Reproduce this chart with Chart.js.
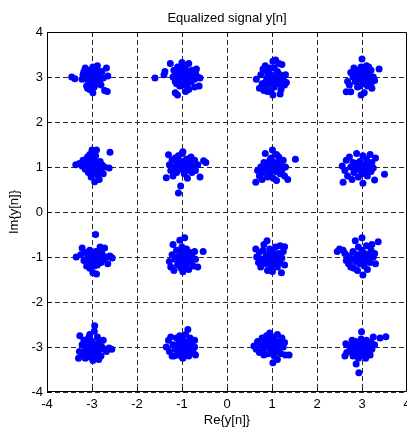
<!DOCTYPE html>
<html>
<head>
<meta charset="utf-8">
<script src="https://cdn.jsdelivr.net/npm/chart.js@4.4.0/dist/chart.umd.min.js"></script>
<style>
  html, body { margin: 0; padding: 0; background: #fff; overflow: hidden; }
  canvas { display: block; }
</style>
</head>
<body>
<canvas id="scatter" width="407" height="428"></canvas>
<script>
// axis ticks
const xTicks = [-4, -3, -2, -1, 0, 1, 2, 3, 4];
const yTicks = [-4, -3, -2, -1, 0, 1, 2, 3, 4];

const row3a = [[-3.45,3.0],[-3.38,2.96],[-3.22,2.95],[-3.18,3.12],[-3.15,3.2],[-3.1,3.05],[-3.08,2.9],[-3.05,3.15],[-3.02,3.0],[-3.0,2.85],[-2.98,3.22],[-2.95,3.08],[-2.92,2.95],[-2.9,3.18],[-2.88,3.25],[-2.85,3.05],[-2.83,2.9],[-3.12,2.8],[-3.05,2.72],[-2.98,2.65],[-3.1,2.75],[-2.95,2.78],[-2.8,2.82],[-2.78,3.12],[-2.75,2.98],[-2.68,3.2],[-2.65,3.02],[-2.72,2.7],[-2.66,2.68],[-3.2,3.05],[-3.0,3.1],[-2.9,3.02],[-3.15,2.98],[-3.05,2.85],[-2.95,2.88],[-3.08,3.08],[-2.98,3.0],[-2.88,3.1],[-3.02,2.92],[-2.92,2.85],[-3.12,3.12],[-2.85,2.98]];
const row3b = [[-1.6,2.98],[-1.4,3.05],[-1.38,3.12],[-1.26,3.3],[-1.2,3.0],[-1.18,3.15],[-1.15,2.9],[-1.12,3.08],[-1.1,3.22],[-1.08,2.95],[-1.05,3.1],[-1.02,3.0],[-1.0,3.18],[-0.98,2.88],[-0.95,3.05],[-0.92,3.25],[-0.9,2.95],[-0.88,3.12],[-0.85,3.3],[-0.82,3.02],[-0.8,2.9],[-0.78,3.15],[-0.75,3.05],[-0.72,2.95],[-0.7,3.1],[-0.65,3.0],[-0.6,2.98],[-0.62,2.8],[-0.72,2.78],[-0.85,2.72],[-0.92,2.68],[-1.15,2.65],[-1.1,2.6],[-1.05,2.8],[-0.95,2.82],[-1.12,2.85],[-0.68,3.18],[-1.0,3.32],[-0.88,2.82],[-1.08,3.02],[-0.98,3.1],[-0.9,3.05],[-0.85,2.98],[-1.02,2.92],[-0.78,3.0],[-0.95,3.18],[-1.15,3.05]];
const row3c = [[0.65,2.95],[0.72,2.75],[0.75,3.05],[0.78,2.85],[0.8,3.18],[0.82,2.7],[0.85,3.25],[0.88,2.98],[0.9,2.8],[0.92,3.1],[0.95,2.92],[0.98,2.68],[1.0,3.02],[1.02,3.35],[1.05,3.2],[1.05,2.78],[1.08,3.38],[1.1,2.95],[1.12,3.12],[1.15,2.85],[1.18,3.05],[1.2,2.72],[1.22,3.28],[1.25,2.95],[1.28,2.82],[1.3,3.05],[1.32,2.88],[1.18,2.62],[1.02,2.6],[0.9,2.68],[1.15,3.3],[0.95,3.2],[1.08,2.88],[0.85,2.88],[0.98,3.05],[1.05,3.0],[1.12,2.92],[0.92,2.95],[1.0,2.85],[1.2,2.98],[0.88,3.12]];
const row3d = [[2.65,2.67],[2.75,2.67],[2.68,2.9],[2.72,2.82],[2.75,3.1],[2.8,3.0],[2.82,3.2],[2.85,2.9],[2.88,3.08],[2.9,2.78],[2.92,3.15],[2.95,2.95],[2.98,3.22],[3.0,3.4],[3.0,3.05],[3.02,2.85],[3.05,2.65],[2.98,2.6],[3.05,3.12],[3.08,2.95],[3.1,3.25],[3.12,2.8],[3.15,3.05],[3.18,2.9],[3.2,3.15],[3.22,2.75],[3.25,3.0],[3.28,2.92],[3.38,3.18],[3.15,3.22],[2.95,2.8],[3.1,3.0],[2.9,3.0],[3.2,2.85],[3.02,3.15],[2.95,3.05],[3.08,2.88],[3.0,2.95],[3.12,3.12],[2.85,3.02]];

const row1a = [[-3.36,1.05],[-3.28,1.08],[-3.22,1.02],[-3.2,1.15],[-3.15,0.95],[-3.12,1.1],[-3.1,1.22],[-3.08,0.88],[-3.05,1.0],[-3.02,1.15],[-3.0,1.38],[-2.98,0.9],[-2.95,1.05],[-2.92,1.25],[-2.9,1.38],[-2.88,0.82],[-2.85,1.0],[-2.82,1.12],[-2.8,0.92],[-2.78,1.05],[-2.75,0.85],[-2.72,1.0],[-2.6,1.33],[-2.62,0.98],[-2.94,0.67],[-2.84,0.72],[-3.02,0.78],[-3.1,1.0],[-2.95,1.15],[-2.88,0.98],[-3.05,1.28],[-3.0,1.05],[-2.92,0.95],[-2.98,1.12],[-3.08,0.95],[-2.85,1.08],[-2.9,0.88],[-3.15,1.05]];
const row1b = [[-1.35,0.76],[-1.3,1.27],[-1.28,1.05],[-1.25,0.92],[-1.22,1.15],[-1.2,0.8],[-1.18,1.0],[-1.15,1.2],[-1.12,0.88],[-1.1,1.08],[-1.08,1.25],[-1.05,0.95],[-1.02,1.12],[-1.0,1.3],[-0.98,1.34],[-0.95,0.85],[-0.92,1.02],[-0.9,1.18],[-0.88,0.75],[-0.85,0.95],[-0.82,1.1],[-0.8,1.22],[-0.78,0.88],[-0.75,1.0],[-0.72,1.15],[-0.7,0.92],[-0.65,1.05],[-0.6,0.78],[-0.52,1.14],[-0.47,1.1],[-1.03,0.58],[-1.08,0.42],[-0.9,0.98],[-1.0,1.05],[-0.95,1.12],[-0.85,1.05],[-1.05,1.02],[-0.92,0.9],[-0.8,1.0],[-0.98,0.95]];
const row1c = [[0.64,0.66],[0.68,0.92],[0.72,0.8],[0.75,1.0],[0.78,0.72],[0.8,0.88],[0.82,1.1],[0.85,1.3],[0.88,0.95],[0.9,0.78],[0.92,1.05],[0.95,0.85],[0.98,1.2],[1.0,0.98],[1.01,1.38],[1.03,0.75],[1.05,1.1],[1.08,0.9],[1.1,0.7],[1.12,1.02],[1.15,1.22],[1.18,0.85],[1.2,1.05],[1.22,0.92],[1.25,1.15],[1.28,0.8],[1.3,1.0],[1.35,0.72],[1.52,1.17],[1.1,1.28],[0.95,1.15],[1.05,0.95],[1.18,1.0],[0.98,0.9],[1.02,1.05],[1.1,0.95],[0.9,1.0],[1.15,1.1],[0.95,0.98]];
const row1d = [[2.56,1.02],[2.58,0.66],[2.62,0.92],[2.65,1.15],[2.68,0.8],[2.72,1.22],[2.75,1.0],[2.78,0.72],[2.8,1.1],[2.82,0.88],[2.85,1.05],[2.88,1.3],[2.9,0.95],[2.92,0.78],[2.95,1.12],[2.98,1.0],[3.0,0.85],[3.02,0.64],[3.02,1.25],[3.05,1.05],[3.08,0.92],[3.1,1.18],[3.12,0.8],[3.15,1.02],[3.18,1.28],[3.2,0.9],[3.22,1.1],[3.25,0.98],[3.28,0.71],[3.3,1.2],[3.5,0.84],[3.0,1.0],[2.9,1.08],[3.05,0.98],[2.95,1.02],[3.1,1.05],[2.98,0.92],[3.15,0.95],[2.85,0.98]];

const rowM1a = [[-3.35,-1.0],[-3.25,-0.95],[-3.22,-0.8],[-3.18,-1.08],[-3.15,-0.9],[-3.12,-1.2],[-3.1,-1.02],[-3.05,-0.85],[-3.02,-1.12],[-3.0,-0.98],[-2.98,-1.35],[-2.92,-0.5],[-2.95,-1.05],[-2.92,-0.88],[-2.9,-1.38],[-2.88,-1.18],[-2.85,-1.0],[-2.82,-0.78],[-2.8,-1.12],[-2.78,-0.92],[-2.75,-1.05],[-2.72,-0.8],[-2.68,-1.0],[-2.65,-1.15],[-2.6,-0.98],[-2.55,-1.02],[-3.05,-1.25],[-2.95,-1.2],[-3.08,-0.95],[-2.9,-1.0],[-2.98,-0.92],[-3.0,-1.08],[-2.92,-1.1],[-2.85,-0.92],[-3.02,-1.0],[-2.88,-1.05],[-2.95,-0.98],[-3.1,-1.1]];
const rowM1b = [[-1.28,-1.1],[-1.25,-1.22],[-1.22,-0.95],[-1.2,-0.72],[-1.18,-1.3],[-1.15,-1.05],[-1.12,-0.85],[-1.1,-1.18],[-1.05,-0.63],[-1.05,-0.98],[-1.02,-1.25],[-1.0,-0.78],[-0.98,-1.33],[-0.98,-1.08],[-0.95,-0.92],[-0.94,-0.57],[-0.92,-1.2],[-0.9,-0.82],[-0.88,-1.02],[-0.85,-1.28],[-0.82,-0.9],[-0.8,-1.12],[-0.78,-0.98],[-0.75,-1.2],[-0.72,-0.88],[-0.7,-1.05],[-0.65,-1.22],[-0.53,-0.88],[-1.1,-1.0],[-0.95,-1.05],[-1.0,-1.15],[-1.02,-0.95],[-0.9,-1.1],[-0.85,-0.98],[-1.08,-1.1],[-0.92,-1.0],[-0.98,-0.88],[-0.82,-1.05]];
const rowM1c = [[0.64,-0.82],[0.66,-1.0],[0.7,-1.12],[0.72,-0.9],[0.75,-1.22],[0.78,-1.05],[0.8,-0.85],[0.82,-0.72],[0.85,-1.15],[0.88,-0.95],[0.89,-0.64],[0.9,-1.3],[0.92,-1.05],[0.95,-0.82],[0.98,-1.2],[1.0,-0.98],[1.01,-1.32],[1.02,-0.88],[1.05,-1.1],[1.08,-0.78],[1.1,-1.0],[1.12,-1.22],[1.15,-0.92],[1.18,-0.75],[1.18,-1.12],[1.21,-1.35],[1.22,-1.02],[1.25,-0.88],[1.28,-0.77],[1.28,-1.18],[0.95,-1.02],[1.05,-0.95],[0.98,-1.08],[1.08,-1.05],[0.92,-0.95],[1.02,-1.15],[1.12,-0.98],[0.85,-1.02]];
const rowM1d = [[2.45,-0.88],[2.5,-0.82],[2.58,-0.85],[2.62,-0.92],[2.65,-1.08],[2.7,-1.15],[2.72,-0.98],[2.75,-1.22],[2.78,-1.05],[2.8,-0.88],[2.82,-1.25],[2.85,-0.64],[2.85,-1.1],[2.88,-0.95],[2.9,-1.3],[2.92,-0.78],[2.95,-1.15],[2.98,-1.02],[3.0,-0.57],[3.0,-0.85],[3.02,-1.4],[3.05,-1.2],[3.05,-0.92],[3.08,-1.08],[3.1,-0.75],[3.12,-1.28],[3.15,-0.98],[3.18,-1.12],[3.2,-0.85],[3.22,-0.72],[3.25,-1.0],[3.28,-0.92],[3.3,-1.15],[3.36,-0.66],[2.95,-0.95],[3.1,-0.95],[2.9,-1.05],[3.0,-1.05],[3.05,-1.0],[2.98,-1.12],[3.12,-1.05],[3.02,-0.9]];

const rowM3a = [[-3.3,-3.25],[-3.28,-3.1],[-3.27,-2.75],[-3.22,-2.95],[-3.2,-3.18],[-3.18,-2.85],[-3.15,-3.05],[-3.12,-2.9],[-3.1,-3.22],[-3.08,-2.8],[-3.05,-3.0],[-3.02,-3.12],[-3.0,-2.88],[-2.98,-3.3],[-2.96,-3.05],[-2.95,-2.65],[-2.94,-2.53],[-2.92,-2.95],[-2.9,-3.18],[-2.88,-2.78],[-2.85,-3.08],[-2.82,-2.9],[-2.8,-3.2],[-2.78,-3.0],[-2.75,-2.85],[-2.72,-3.05],[-2.68,-3.1],[-2.62,-3.02],[-2.56,-3.05],[-3.15,-3.25],[-2.85,-3.28],[-3.05,-2.72],[-3.0,-3.18],[-2.9,-3.0],[-3.08,-3.1],[-2.98,-2.95],[-3.02,-3.05],[-2.92,-3.1],[-3.12,-3.0],[-2.88,-2.92],[-3.05,-2.92],[-2.95,-3.15]];
const rowM3b = [[-1.35,-3.0],[-1.3,-2.85],[-1.28,-3.1],[-1.25,-2.78],[-1.22,-3.2],[-1.2,-2.95],[-1.15,-3.05],[-1.12,-2.8],[-1.1,-3.18],[-1.08,-2.92],[-1.05,-2.75],[-1.02,-3.1],[-1.0,-3.22],[-0.98,-2.85],[-0.95,-3.0],[-0.92,-2.72],[-0.9,-3.15],[-0.88,-2.95],[-0.87,-2.61],[-0.85,-3.2],[-0.82,-2.8],[-0.8,-3.05],[-0.78,-2.9],[-0.75,-3.12],[-0.72,-2.85],[-0.7,-3.18],[-0.72,-3.0],[-0.98,-3.25],[-1.18,-3.2],[-1.0,-3.0],[-1.05,-2.88],[-0.92,-3.08],[-0.85,-2.88],[-1.1,-3.02],[-0.95,-2.92]];
const rowM3c = [[0.6,-2.98],[0.65,-3.05],[0.68,-2.88],[0.72,-3.12],[0.75,-2.95],[0.78,-2.8],[0.8,-3.05],[0.82,-3.18],[0.85,-2.9],[0.88,-2.75],[0.9,-3.0],[0.92,-3.15],[0.95,-2.69],[0.95,-2.85],[0.98,-3.08],[1.0,-2.95],[1.02,-3.35],[1.02,-2.78],[1.05,-3.2],[1.08,-3.02],[1.1,-2.88],[1.12,-2.72],[1.12,-3.28],[1.15,-3.05],[1.18,-2.92],[1.2,-3.15],[1.22,-2.8],[1.25,-3.0],[1.28,-2.9],[1.3,-3.18],[1.38,-3.18],[1.0,-3.02],[0.9,-2.92],[0.98,-2.88],[1.05,-2.95],[1.08,-3.1],[0.95,-3.0],[1.15,-2.98],[0.85,-3.0],[1.02,-3.08]];
const rowM3d = [[2.62,-3.2],[2.66,-3.12],[2.64,-2.93],[2.72,-2.98],[2.75,-3.1],[2.78,-2.85],[2.8,-3.2],[2.82,-3.0],[2.85,-2.88],[2.87,-3.38],[2.88,-3.12],[2.9,-2.95],[2.92,-3.25],[2.93,-3.57],[2.95,-3.05],[2.98,-2.82],[2.99,-2.66],[3.0,-3.15],[3.02,-2.92],[3.05,-3.05],[3.08,-3.25],[3.1,-2.85],[3.12,-3.1],[3.15,-2.98],[3.18,-3.18],[3.2,-2.9],[3.22,-3.05],[3.25,-2.78],[3.28,-2.95],[3.4,-2.8],[3.53,-2.77],[3.0,-3.0],[2.95,-3.2],[3.05,-2.95],[2.98,-3.1],[3.1,-3.0],[2.92,-3.02],[3.08,-3.12],[3.15,-2.9]];

const clusters = [row3a, row3b, row3c, row3d, row1a, row1b, row1c, row1d,
  rowM1a, rowM1b, rowM1c, rowM1d, rowM3a, rowM3b, rowM3c, rowM3d];

const points = clusters.flat().map(([x, y]) => ({ x, y }));

const FONT = '"Liberation Sans", Arial, Helvetica, sans-serif';

// title, box outline and inward tick marks, matlab style
const framePlugin = {
  id: 'frame',
  beforeDatasetsDraw(chart) {
    const { ctx, chartArea: a, scales } = chart;
    ctx.save();
    ctx.strokeStyle = '#000';
    ctx.lineWidth = 1;
    ctx.beginPath();
    ctx.moveTo(a.left + 0.5, a.bottom - 0.5);
    ctx.lineTo(a.left + 0.5, a.top + 0.5);
    ctx.lineTo(a.right - 0.5, a.top + 0.5);
    ctx.lineTo(a.right - 0.5, a.bottom - 0.5);
    ctx.closePath();
    ctx.stroke();
    ctx.beginPath();
    xTicks.forEach((t) => {
      const px = Math.round(scales.x.getPixelForValue(t)) + 0.5;
      ctx.moveTo(px, a.bottom);
      ctx.lineTo(px, a.bottom - 4);
      ctx.moveTo(px, a.top);
      ctx.lineTo(px, a.top + 4);
    });
    yTicks.forEach((t) => {
      const py = Math.round(scales.y.getPixelForValue(t)) + 0.5;
      ctx.moveTo(a.left, py);
      ctx.lineTo(a.left + 4, py);
    });
    ctx.stroke();
    ctx.restore();
  },
  afterDraw(chart) {
    const { ctx, chartArea: a } = chart;
    ctx.save();
    ctx.fillStyle = '#000';
    ctx.font = '13px ' + FONT;
    ctx.textAlign = 'center';
    ctx.textBaseline = 'alphabetic';
    ctx.fillText('Equalized signal y[n]', (a.left + a.right) / 2, 22);
    ctx.restore();
  },
};

const dashedGrid = {
  color: '#2a2a2a',
  lineWidth: 1,
  drawTicks: false,
};

new Chart(document.getElementById('scatter').getContext('2d'), {
  type: 'scatter',
  data: {
    datasets: [{
      label: 'y[n]',
      data: points,
      backgroundColor: '#0000ff',
      borderWidth: 0,
      pointRadius: 3.5,
      pointHoverRadius: 3.5,
    }],
  },
  options: {
    responsive: false,
    animation: false,
    events: [],
    layout: { autoPadding: false, padding: { top: 32, right: 0, bottom: 0, left: 0 } },
    plugins: {
      legend: { display: false },
      tooltip: { enabled: false },
      title: { display: false },
    },
    scales: {
      x: {
        type: 'linear',
        min: -4,
        max: 4,
        afterBuildTicks: (scale) => { scale.ticks = xTicks.map((v) => ({ value: v })); },
        // the box runs up to the window edge, last label is cut like in the picture
        afterFit: (scale) => { scale.height = 36; scale.paddingLeft = 0; scale.paddingRight = 0; },
        ticks: { color: '#000', padding: 5, font: { family: FONT, size: 13 }, maxRotation: 0 },
        grid: dashedGrid,
        border: { display: false, dash: [5, 3] },
        title: { display: true, text: 'Re{y[n]}', color: '#000', padding: { top: 0, bottom: 0 }, font: { family: FONT, size: 13 } },
      },
      y: {
        type: 'linear',
        min: -4,
        max: 4,
        afterBuildTicks: (scale) => { scale.ticks = yTicks.map((v) => ({ value: v })); },
        afterFit: (scale) => { scale.width = 47; },
        ticks: { color: '#000', padding: 4, font: { family: FONT, size: 13 } },
        grid: dashedGrid,
        border: { display: false, dash: [5, 3] },
        title: { display: true, text: 'Im{y[n]}', color: '#000', padding: { top: 7, bottom: 0 }, font: { family: FONT, size: 13 } },
      },
    },
  },
  plugins: [framePlugin],
});
</script>
</body>
</html>
